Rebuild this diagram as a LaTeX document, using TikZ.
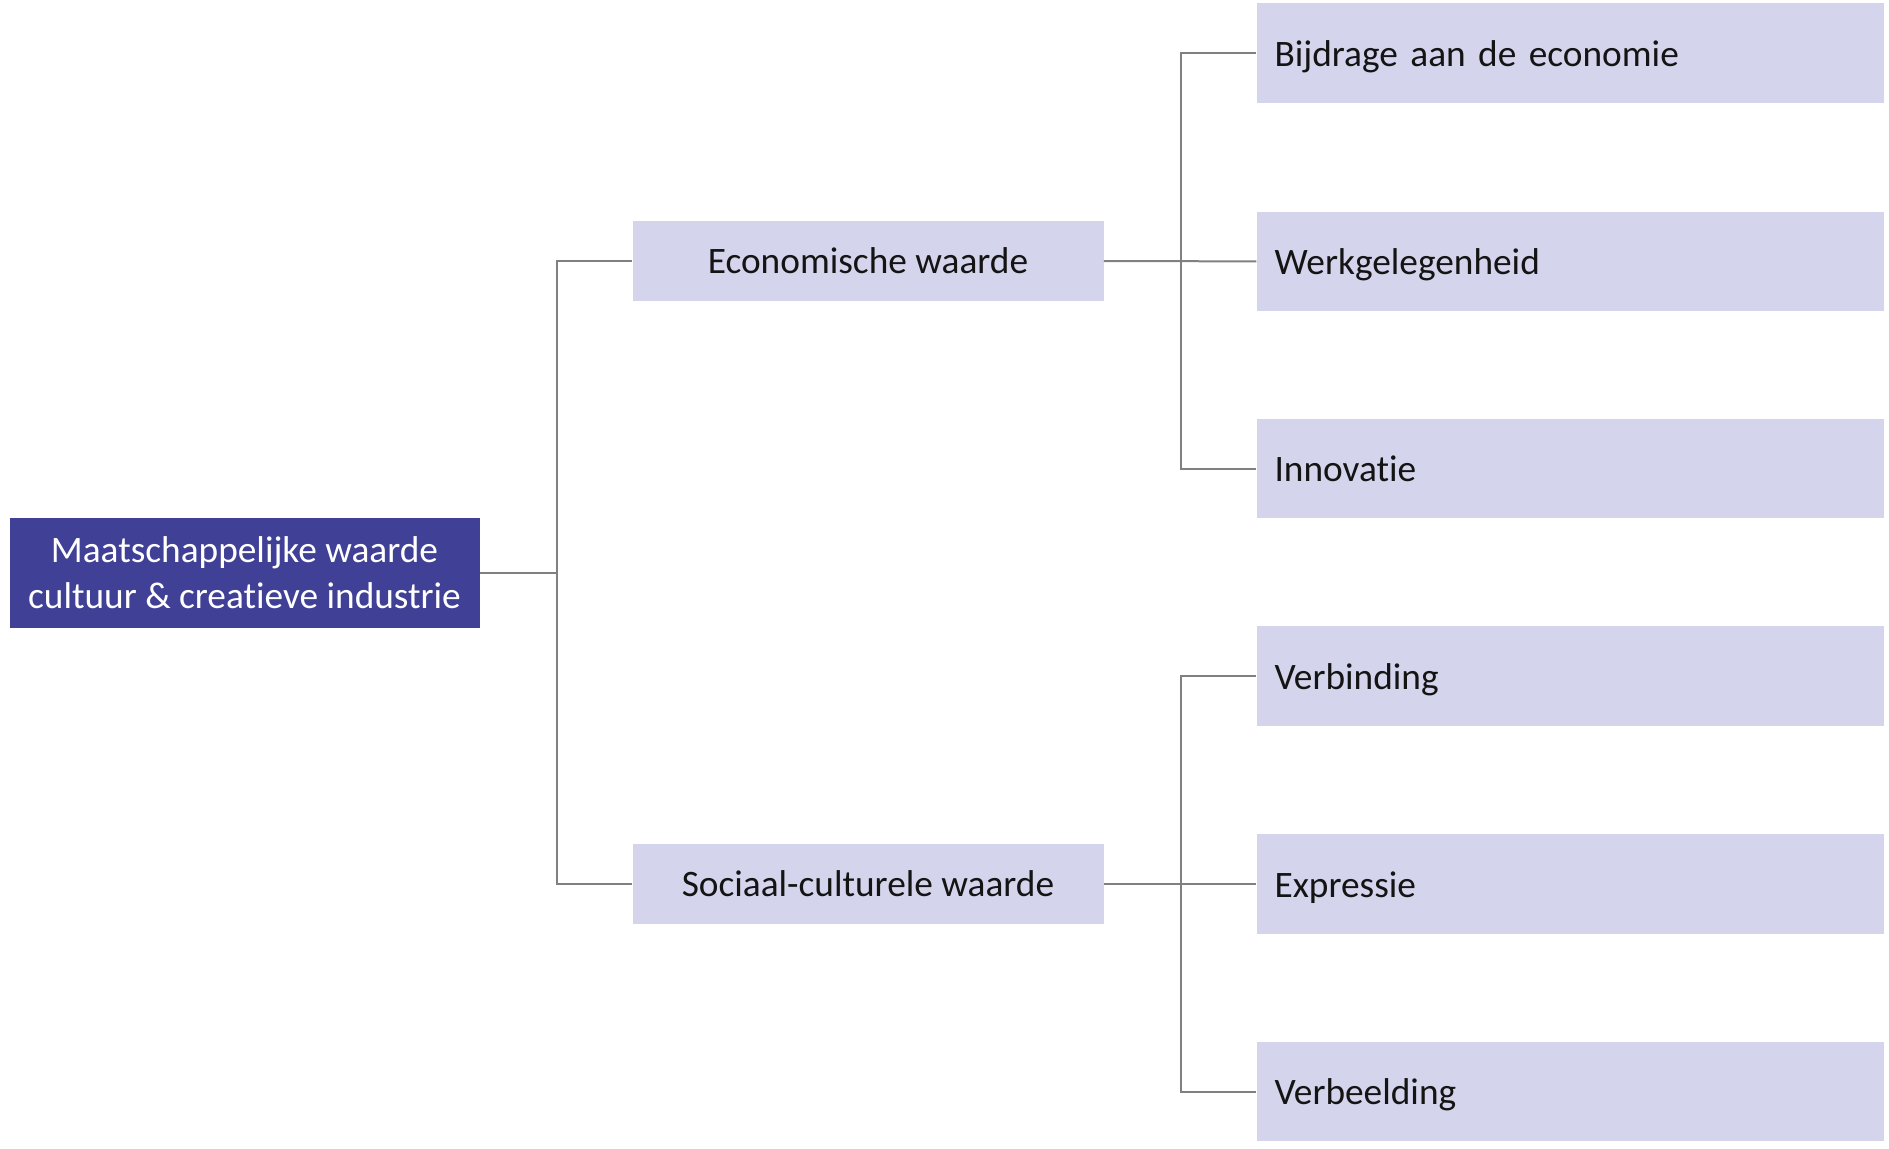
\documentclass[tikz,border=0pt]{standalone}
\usepackage{fontspec}
\setmainfont{Carlito}[Ligatures=NoCommon]
\definecolor{rootblue}{RGB}{64,64,151}
\definecolor{lightbox}{RGB}{212,212,236}
\definecolor{linegray}{RGB}{128,128,128}
\definecolor{txt}{RGB}{20,20,20}
\tikzset{
  rootbox/.style={rectangle, fill=rootblue, text=white, align=center,
    minimum width=352.5pt, minimum height=82.2pt, inner sep=0pt,
    font=\fontsize{28}{34.4}\selectfont},
  midbox/.style={rectangle, fill=lightbox, text=txt,
    minimum width=353.25pt, minimum height=60.4pt, inner sep=0pt,
    text height=19pt, text depth=0pt,
    font=\fontsize{28}{34}\selectfont},
  leafbox/.style={rectangle, fill=lightbox, text=txt, align=left,
    minimum width=470.6pt, minimum height=74.3pt, inner xsep=13.5pt, inner ysep=0pt,
    text width=443.6pt, text height=20pt, text depth=0pt,
    font=\fontsize{28}{34}\selectfont},
  conn/.style={draw=linegray, line width=1.5pt}
}
\begin{document}
\begin{tikzpicture}[x=0.75pt,y=-0.75pt]
\useasboundingbox (0,0) rectangle (1889,1149);
\node[rootbox] (root) at (244.5,572.8) {Maatschappelijke waarde\\cultuur \& creatieve industrie};
\node[midbox] (eco) at (868,261) {Economische waarde};
\node[midbox] (soc) at (868,884) {Sociaal-culturele waarde};
\node[leafbox] (l1) at (1570.3,53) {Bijdrage aan de economie};
\node[leafbox] (l2) at (1570.3,261.4) {Werkgelegenheid};
\node[leafbox] (l3) at (1570.3,468.6) {Innovatie};
\node[leafbox] (l4) at (1570.3,676) {Verbinding};
\node[leafbox] (l5) at (1570.3,884) {Expressie};
\node[leafbox] (l6) at (1570.3,1091.5) {Verbeelding};
\coordinate (j1) at (556.6,572.8);
\coordinate (j2) at (1180.6,261);
\coordinate (j3) at (1180.6,884);
\draw[conn] (root.east) -- (j1);
\draw[conn] (j1) |- (eco.west);
\draw[conn] (j1) |- (soc.west);
\draw[conn] (eco.east) -- (l2.west);
\draw[conn] (j2) |- (l1.west);
\draw[conn] (j2) |- (l3.west);
\draw[conn] (soc.east) -- (l5.west);
\draw[conn] (j3) |- (l4.west);
\draw[conn] (j3) |- (l6.west);
\end{tikzpicture}
\end{document}
